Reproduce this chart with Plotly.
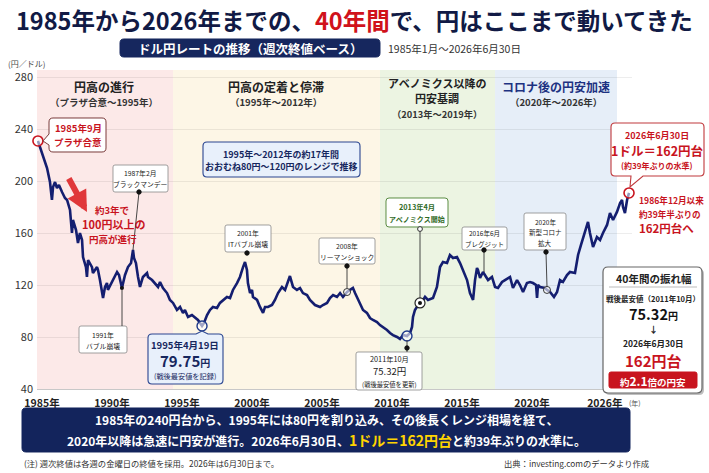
import plotly.graph_objects as go

# ---------------- data ----------------
years = [
    1984.71, 1985.07, 1985.36, 1985.57, 1985.71, 1985.79, 1985.93, 1986.07, 1986.21, 1986.43,
    1986.64, 1986.79, 1987.00, 1987.14, 1987.21, 1987.43, 1987.57, 1987.71, 1987.86, 1987.93,
    1988.14, 1988.21, 1988.29, 1988.57, 1988.64, 1988.93, 1989.00, 1989.14, 1989.29, 1989.36,
    1989.50, 1989.64, 1989.71, 1990.00, 1990.21, 1990.36, 1990.50, 1990.71, 1990.93, 1991.14,
    1991.36, 1991.50, 1991.57, 1991.71, 1991.86, 1992.00, 1992.14, 1992.21, 1992.50, 1992.57,
    1992.86, 1993.07, 1993.29, 1993.43, 1993.64, 1993.93, 1994.14, 1994.36, 1994.64, 1994.86,
    1995.07, 1995.21, 1995.43, 1995.71, 1995.93, 1996.14, 1996.43, 1996.57, 1996.79, 1997.00,
    1997.21, 1997.50, 1997.71, 1997.93, 1998.21, 1998.43, 1998.64, 1998.93, 1999.14, 1999.36,
    1999.50, 1999.64, 1999.71, 1999.86, 2000.00, 2000.07, 2000.36, 2000.57, 2000.79, 2000.93,
    2001.14, 2001.43, 2001.64, 2001.86, 2002.14, 2002.36, 2002.57, 2002.71, 2002.93, 2003.21,
    2003.43, 2003.64, 2003.93, 2004.14, 2004.50, 2004.86, 2005.07, 2005.36, 2005.57, 2005.79,
    2006.07, 2006.29, 2006.50, 2006.79, 2007.00, 2007.21, 2007.36, 2007.50, 2007.71, 2007.93,
    2008.21, 2008.43, 2008.64, 2008.93, 2009.14, 2009.36, 2009.64, 2009.86, 2010.07, 2010.36,
    2010.57, 2010.79, 2011.07, 2011.29, 2011.43, 2011.50, 2011.64, 2011.86, 2012.14, 2012.36,
    2012.57, 2012.93, 2013.21, 2013.43, 2013.64, 2013.93, 2014.14, 2014.36, 2014.64, 2014.86,
    2015.07, 2015.36, 2015.57, 2015.79, 2015.93, 2016.07, 2016.14, 2016.29, 2016.50, 2016.64,
    2016.86, 2017.14, 2017.36, 2017.57, 2017.86, 2018.07, 2018.29, 2018.43, 2018.64, 2018.93,
    2019.14, 2019.36, 2019.64, 2019.86, 2020.07, 2020.29, 2020.36, 2020.43, 2020.57, 2020.93,
    2021.07, 2021.29, 2021.57, 2021.79, 2022.00, 2022.21, 2022.50, 2022.71, 2023.07, 2023.29,
    2023.50, 2023.71, 2023.93, 2024.00, 2024.14, 2024.36, 2024.64, 2024.86, 2025.07, 2025.36,
    2025.57, 2025.79, 2026.07, 2026.29, 2026.43, 2026.50, 2026.64, 2026.79, 2026.93]

rates = [
    230.8, 220.0, 210.0, 199.2, 185.4, 195.4, 199.2, 194.6, 196.9, 191.5,
    186.9, 185.4, 177.7, 160.0, 170.0, 162.3, 152.3, 160.0, 154.6, 141.5,
    133.8, 126.2, 139.2, 133.8, 129.2, 133.8, 131.5, 123.8, 116.2, 110.0,
    118.5, 121.5, 116.2, 122.3, 126.2, 130.0, 127.7, 117.7, 127.7, 133.8,
    136.9, 146.9, 140.8, 136.9, 126.2, 118.5, 123.8, 126.2, 129.2, 126.2,
    123.8, 121.5, 118.5, 122.3, 117.7, 113.8, 108.5, 106.2, 100.8, 103.1,
    98.5, 100.8, 95.4, 96.9, 94.6, 93.1, 88.5, 90.8, 96.9, 100.8,
    103.1, 102.3, 106.2, 108.5, 110.8, 110.0, 116.2, 121.5, 126.2, 133.8,
    137.7, 131.5, 121.5, 113.8, 116.2, 110.8, 108.5, 103.1, 98.5, 103.1,
    103.1, 104.6, 108.5, 113.8, 118.5, 116.2, 123.8, 126.9, 118.5, 116.2,
    117.7, 113.8, 112.3, 108.5, 104.6, 103.1, 104.6, 106.2, 110.0, 112.3,
    110.8, 113.8, 110.8, 114.6, 116.2, 117.7, 113.8, 110.8, 106.2, 100.8,
    98.5, 94.6, 93.1, 91.5, 89.2, 87.7, 85.4, 83.1, 81.5, 80.0,
    78.5, 81.5, 80.8, 83.1, 87.7, 95.4, 100.8, 104.6, 106.9, 110.8,
    108.5, 110.0, 118.5, 133.8, 137.7, 136.9, 143.1, 140.8, 141.5, 136.9,
    131.5, 123.8, 113.8, 108.5, 123.8, 133.1, 131.5, 125.4, 130.0, 127.7,
    123.8, 126.2, 118.5, 117.7, 122.3, 123.8, 125.4, 126.2, 117.7, 123.8,
    120.0, 114.6, 121.5, 122.3, 121.5, 120.0, 110.0, 120.0, 118.5, 117.7,
    116.2, 114.6, 110.8, 114.6, 123.8, 122.3, 127.7, 130.0, 129.2, 143.1,
    150.8, 158.5, 166.2, 168.5, 160.0, 149.2, 156.9, 154.6, 160.0, 166.2,
    175.4, 170.0, 176.2, 183.1, 185.4, 180.0, 175.4, 185.4, 190.8]

x_tick_vals = [1985, 1990, 1995, 2000, 2005, 2010, 2015, 2020, 2025.2]
x_tick_text = ["1985年", "1990年", "1995年", "2000年", "2005年", "2010年", "2015年", "2020年", "2026年"]
y_tick_vals = [40, 80, 120, 160, 200, 240, 280]

period_start = [1984.64, 1994.36, 2009.14, 2017.36]
period_end = [1994.36, 2009.14, 2017.36, 2026.07]
period_color = ["#fce9e8", "#fdf6e6", "#ecf4e2", "#e6eef8"]

# highlighted points on the line
red_circle_years = [1984.71, 2026.93]
red_circle_rates = [230.8, 190.8]
low_circle_years = [1996.43, 2011.07]
low_circle_rates = [88.5, 80.8]
open_circle_years = [2006.79, 2021.07]
open_circle_rates = [114.6, 116.2]
abe_years = [2012.0]
abe_rates = [106.2]
dot_years = [1990.71]
dot_rates = [117.7]

# ---------------- geometry helpers ----------------
W, H = 709, 473
L, R, T, B = 37, 632, 70, 389
FONT = "Noto Sans CJK JP, Noto Sans, sans-serif"
RED = "#c8141e"


def fx(x):
    return (x - L) / (R - L)


def fy(y):
    return (B - y) / (B - T)


def P(x, y):
    return f"{fx(x):.5f},{fy(y):.5f}"


annotations = []
shapes = []


def txt(x, y, s, size=10, color="#222", xa="center", ya="middle"):
    annotations.append(dict(x=fx(x), y=fy(y), xref="paper", yref="paper", text=s,
                            showarrow=False, xanchor=xa, yanchor=ya,
                            font=dict(size=size, color=color, family=FONT)))


def rbox(x0, y0, x1, y1, r=4, fill="white", line="#888", lw=1, ptr=None):
    p = f"M {P(x0 + r, y0)}"
    if ptr and ptr[0] == "top":
        p += f" L {P(ptr[1], y0)} L {P(ptr[3], ptr[4])} L {P(ptr[2], y0)}"
    p += f" L {P(x1 - r, y0)} Q {P(x1, y0)} {P(x1, y0 + r)}"
    p += f" L {P(x1, y1 - r)} Q {P(x1, y1)} {P(x1 - r, y1)}"
    if ptr and ptr[0] == "bottom":
        p += f" L {P(ptr[2], y1)} L {P(ptr[3], ptr[4])} L {P(ptr[1], y1)}"
    p += f" L {P(x0 + r, y1)} Q {P(x0, y1)} {P(x0, y1 - r)}"
    if ptr and ptr[0] == "left":
        p += f" L {P(x0, ptr[2])} L {P(ptr[3], ptr[4])} L {P(x0, ptr[1])}"
    p += f" L {P(x0, y0 + r)} Q {P(x0, y0)} {P(x0 + r, y0)} Z"
    shapes.append(dict(type="path", path=p, xref="paper", yref="paper",
                       fillcolor=fill, line=dict(color=line, width=lw), layer="above"))


def seg(x0, y0, x1, y1, color="#333", lw=0.9):
    shapes.append(dict(type="line", x0=fx(x0), y0=fy(y0), x1=fx(x1), y1=fy(y1),
                       xref="paper", yref="paper", line=dict(color=color, width=lw), layer="above"))


def dot(x, y, r=2.2, color="#111", fill=None):
    shapes.append(dict(type="circle", x0=fx(x - r), x1=fx(x + r), y0=fy(y + r), y1=fy(y - r),
                       xref="paper", yref="paper", fillcolor=fill or color,
                       line=dict(color=color, width=1), layer="above"))


# ---------------- figure ----------------
fig = go.Figure()

for s, e, c in zip(period_start, period_end, period_color):
    shapes.append(dict(type="rect", xref="x", yref="paper", x0=s, x1=e, y0=0, y1=1,
                       fillcolor=c, line=dict(width=0), layer="below"))

fig.add_trace(go.Scatter(x=years, y=rates, mode="lines",
                         line=dict(color="#141e70", width=2.6), hoverinfo="skip"))

fig.add_trace(go.Scatter(x=red_circle_years, y=red_circle_rates, mode="markers", cliponaxis=False,
                         marker=dict(size=10, color="rgba(255,255,255,0.55)", line=dict(color=RED, width=1.6))))
fig.add_trace(go.Scatter(x=low_circle_years, y=low_circle_rates, mode="markers", cliponaxis=False,
                         marker=dict(size=10, color="rgba(255,255,255,0.6)", line=dict(color="#1f3a8a", width=1.4))))
fig.add_trace(go.Scatter(x=open_circle_years, y=open_circle_rates, mode="markers", cliponaxis=False,
                         marker=dict(size=7, color="rgba(255,255,255,0.6)", line=dict(color="#333", width=1))))
fig.add_trace(go.Scatter(x=abe_years, y=abe_rates, mode="markers", cliponaxis=False,
                         marker=dict(size=10, color="white", line=dict(color="#222", width=1.2))))
fig.add_trace(go.Scatter(x=abe_years + dot_years, y=abe_rates + dot_rates, mode="markers", cliponaxis=False,
                         marker=dict(size=4, color="#111")))

# ---- title & subtitle ----
txt(354, 20, '<b>1985年から2026年までの、<span style="color:#d0121b">40年間</span>で、円はここまで動いてきた</b>',
    size=23.5, color="#111a45")
rbox(120, 39, 380, 57, r=4, fill="#16275e", line="#16275e", lw=1)
txt(250, 48, "<b>ドル円レートの推移（週次終値ベース）</b>", size=12.5, color="white")
txt(386, 48, "1985年1月～2026年6月30日", size=10.5, color="#333", xa="left")
txt(6, 63, "(円／ドル)", size=8, color="#444", xa="left")
txt(627, 403, "(年)", size=7, color="#555", xa="left")

# ---- period headings ----
txt(104, 87, "<b>円高の進行</b>", size=12, color="#222")
txt(104, 102, "<b>（プラザ合意～1995年）</b>", size=9.5, color="#333")
txt(276, 87, "<b>円高の定着と停滞</b>", size=12, color="#222")
txt(276, 102, "<b>（1995年～2012年）</b>", size=9.5, color="#333")
txt(437, 83, "<b>アベノミクス以降の</b>", size=11, color="#222")
txt(437, 98.5, "<b>円安基調</b>", size=11, color="#222")
txt(437, 113.5, "<b>（2013年～2019年）</b>", size=9.3, color="#333")
txt(556, 87, "<b>コロナ後の円安加速</b>", size=12, color="#1d3282")
txt(556, 102, "<b>（2020年～2026年）</b>", size=9.5, color="#333")

# ---- Plaza accord callout ----
rbox(49, 118, 106, 152, r=4, fill="white", line="#7a3b3b", lw=1, ptr=("left", 134, 145, 43, 141))
txt(78, 128, "<b>1985年9月</b>", size=9.5, color=RED)
txt(78, 142, "<b>プラザ合意</b>", size=9.5, color=RED)

# ---- Black Monday ----
rbox(113, 165, 168, 192, r=2, fill="white", line="#888", lw=0.8)
txt(140, 173, "1987年2月", size=6.8, color="#222")
txt(140, 184, "ブラックマンデー", size=6.8, color="#222")
seg(139, 192, 133, 250)
dot(139, 192)

# ---- red arrow & text ----
annotations.append(dict(x=fx(87), y=fy(212), xref="paper", yref="paper", text="",
                        showarrow=True, ax=-19, ay=-35, arrowcolor="#e0383a",
                        arrowwidth=6, arrowhead=2, arrowsize=0.7))
txt(112, 209.5, "<b>約3年で</b>", size=9.5, color=RED)
txt(113, 224, "<b>100円以上の</b>", size=11, color=RED)
txt(113, 238.5, "<b>円高が進行</b>", size=9.5, color=RED)

# ---- 1991 bubble ----
rbox(79, 326, 127, 353, r=2, fill="white", line="#888", lw=0.8)
txt(103, 335, "1991年", size=6.8, color="#222")
txt(103, 346, "バブル崩壊", size=6.8, color="#222")
seg(122, 289, 122, 326)

# ---- 1995 low ----
rbox(148, 334, 223, 384, r=4, fill="#e8f0fb", line="#2a4590", lw=1.1, ptr=("top", 196, 208, 202, 331))
txt(185, 345, "<b>1995年4月19日</b>", size=9.5, color="#16275e")
txt(185, 360, '<b>79.75<span style="font-size:10px">円</span></b>', size=15, color="#16275e")
txt(185, 376, "(戦後最安値を記録)", size=7.2, color="#16275e")

# ---- range box ----
rbox(203, 142, 360, 177, r=4, fill="#e8f0fb", line="#2a4590", lw=1.1)
txt(281, 154, "<b>1995年～2012年の約17年間</b>", size=9, color="#16275e")
txt(281, 166, "<b>おおむね80円～120円のレンジで推移</b>", size=9, color="#16275e")

# ---- 2001 IT bubble ----
rbox(225, 225, 271, 252, r=2, fill="white", line="#888", lw=0.8)
txt(248, 233, "2001年", size=6.8, color="#222")
txt(248, 244, "ITバブル崩壊", size=6.8, color="#222")
dot(247, 253)

# ---- 2008 Lehman ----
rbox(319, 238, 375, 264, r=2, fill="white", line="#888", lw=0.8)
txt(347, 246, "2008年", size=6.8, color="#222")
txt(347, 257, "リーマンショック", size=6.8, color="#222")
seg(347, 266, 347, 288)
dot(347, 266)

# ---- 2013 Abenomics ----
rbox(386, 198, 448, 227, r=3, fill="white", line="#5b8c43", lw=1)
txt(417, 207, "<b>2013年4月</b>", size=7.3, color="#2f6a1f")
txt(417, 219, "<b>アベノミクス開始</b>", size=7, color="#2f6a1f")
seg(420, 229, 420, 298)
dot(420, 229, r=2.4, color="#333", fill="white")

# ---- 2011 low ----
rbox(356, 352, 422, 390, r=2, fill="white", line="#888", lw=0.8)
txt(389, 359, "2011年10月", size=7.3, color="#222")
txt(389, 371, "75.32円", size=9.5, color="#222")
txt(389, 384, "(戦後最安値を更新)", size=6.3, color="#222")
seg(407, 340, 407, 352)
dot(407, 348)

# ---- 2016 Brexit ----
rbox(462, 227, 507, 250, r=2, fill="white", line="#888", lw=0.8)
txt(484, 233, "2016年6月", size=6.5, color="#222")
txt(484, 244, "ブレグジット", size=6.5, color="#222")
seg(484, 250, 484, 272)
dot(484, 250)

# ---- 2020 Covid ----
rbox(524, 213, 566, 250, r=2, fill="white", line="#888", lw=0.8)
txt(545, 222, "2020年", size=6.5, color="#222")
txt(545, 232, "新型コロナ", size=6.5, color="#222")
txt(545, 243, "拡大", size=6.5, color="#222")
seg(546, 252, 547, 287)
dot(546, 252)

# ---- 2026 callout ----
rbox(611, 123, 704, 176, r=4, fill="white", line="#c0393c", lw=1.1, ptr=("bottom", 631, 643, 630, 187))
txt(657, 135, "<b>2026年6月30日</b>", size=9, color=RED)
txt(657, 150, "<b>1ドル＝162円台</b>", size=12.5, color=RED)
txt(657, 165, "<b>(約39年ぶりの水準)</b>", size=8, color=RED)
txt(637, 200, "<b>1986年12月以来</b>", size=8.6, color=RED, xa="left")
txt(637, 214, "<b>約39年半ぶりの</b>", size=8.6, color=RED, xa="left")
txt(637, 228, "<b>162円台へ</b>", size=11.5, color=RED, xa="left")

# ---- 40-year range box ----
rbox(605, 269, 704, 395, r=5, fill="rgba(0,0,0,0.25)", line="rgba(0,0,0,0)", lw=0)
rbox(603, 267, 702, 393, r=5, fill="white", line="#666", lw=1.2)
txt(653, 278, "<b>40年間の振れ幅</b>", size=10.5, color="#222")
seg(609, 287, 697, 287, color="#aaa", lw=0.8)
txt(653, 298, "<b>戦後最安値（2011年10月）</b>", size=7.5, color="#222")
txt(653, 313, '<b>75.32<span style="font-size:10px">円</span></b>', size=14.5, color="#111")
txt(653, 329, "<b>↓</b>", size=9, color="#222")
txt(653, 343, "<b>2026年6月30日</b>", size=8.5, color="#222")
txt(653, 360, "<b>162円台</b>", size=15, color=RED)
rbox(609, 372, 697, 388, r=2, fill=RED, line=RED, lw=1)
txt(653, 380, '<b>約<span style="font-size:12px">2.1</span>倍の円安</b>', size=9.5, color="white")

# ---- bottom summary ----
rbox(22, 408, 630, 452, r=4, fill="#13245c", line="#13245c", lw=1)
txt(326, 419, "<b>1985年の240円台から、1995年には80円を割り込み、その後長くレンジ相場を経て、</b>",
    size=12, color="white")
txt(326, 440, '<b>2020年以降は急速に円安が進行。2026年6月30日、<span style="color:#ffd400;font-size:14px">1ドル＝162円台</span>と約39年ぶりの水準に。</b>',
    size=12, color="white")
txt(22, 463, "(注) 週次終値は各週の金曜日の終値を採用。2026年は6月30日まで。", size=8.3, color="#333", xa="left")
txt(576, 463, "出典：investing.comのデータより作成", size=8.3, color="#333")

fig.update_layout(
    width=W, height=H,
    margin=dict(l=L, r=W - R, t=T, b=H - B),
    paper_bgcolor="white", plot_bgcolor="white",
    showlegend=False,
    font=dict(family=FONT),
    xaxis=dict(range=[1985 + (L - 42) / 14, 1985 + (R - 42) / 14], tickvals=x_tick_vals,
               ticktext=x_tick_text, showgrid=False, zeroline=False, showline=True,
               linecolor="#c8c8c8", linewidth=1, ticks="", ticklabelstandoff=4,
               tickfont=dict(size=10.5, color="#222", family=FONT, weight="bold")),
    yaxis=dict(range=[40, 40 + (B - T) / 1.3], tickvals=y_tick_vals, showgrid=True,
               gridcolor="rgba(0,0,0,0.07)", gridwidth=1, zeroline=False, ticks="",
               ticklabelstandoff=3,
               tickfont=dict(size=11, color="#333", family=FONT)),
    shapes=shapes,
    annotations=annotations,
)

fig.write_html("out.html")
